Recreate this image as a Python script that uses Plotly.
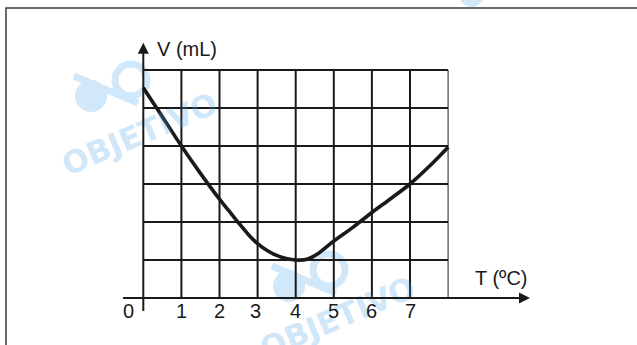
import plotly.graph_objects as go

# data
T = [0, 0.5, 1, 1.5, 2, 2.25, 2.5, 2.75, 3, 3.25, 3.5, 3.75, 4.0, 4.3, 4.6, 4.95, 5.5, 6, 6.5, 7, 7.5, 8]
V = [5.53, 4.77, 4.0, 3.28, 2.6, 2.29, 1.98, 1.68, 1.43, 1.25, 1.12, 1.04, 1.0, 1.02, 1.18, 1.46, 1.86, 2.25, 2.62, 3.0, 3.46, 3.97]
T_GRID = [1, 2, 3, 4, 5, 6, 7, 8]
V_GRID = [1, 2, 3, 4, 5, 6]
T_TICKS = [0, 1, 2, 3, 4, 5, 6, 7]
T_LABELS = ["0", "1", "2", "3", "4", "5", "6", "7"]

W, H = 637, 345
X0, Y0 = 143.3, 298.0     # pixel position of the origin
UX, UY = 38.1, 38.0       # pixels per unit
FONT = "Liberation Sans, Arial, sans-serif"
BLUE = "#d1e8fa"
# watermark text sits above the traces, so it is drawn faint: 25% of this blue over white gives BLUE
BLUE_TXT = "rgb(73,163,235)"


def px(x):
    return x / W


def py(y):
    return 1 - y / H


fig = go.Figure()
fig.add_trace(go.Scatter(x=T, y=V, mode="lines", line=dict(color="#1a1a1a", width=3.6, shape="spline", smoothing=0.9),
                         hoverinfo="skip", showlegend=False))

shapes = []
annotations = []

# watermark (logo + text), drawn twice
for dx, dy, ty in [(0, 0, 134), (198, 190, 318)]:
    shapes.append(dict(type="circle", xref="paper", yref="paper", layer="below",
                       x0=px(75 + dx), x1=px(107 + dx), y0=py(80 + dy), y1=py(112 + dy),
                       fillcolor=BLUE, line=dict(width=0)))
    shapes.append(dict(type="circle", xref="paper", yref="paper", layer="below",
                       x0=px(115 + dx), x1=px(147 + dx), y0=py(64 + dy), y1=py(96 + dy),
                       line=dict(color=BLUE, width=7)))
    shapes.append(dict(type="line", xref="paper", yref="paper", layer="below",
                       x0=px(74 + dx), x1=px(138 + dx), y0=py(76 + dy), y1=py(103 + dy),
                       line=dict(color=BLUE, width=7)))
    annotations.append(dict(xref="paper", yref="paper", x=px(139 + dx), y=py(ty), text="<b>OBJETIVO</b>",
                            xanchor="center", yanchor="middle", showarrow=False, textangle=-23, opacity=0.25,
                            font=dict(family="DejaVu Sans", size=31, color=BLUE_TXT)))
shapes.append(dict(type="circle", xref="paper", yref="paper", layer="below",
                   x0=px(459), x1=px(484), y0=py(-18), y1=py(7), fillcolor=BLUE, line=dict(width=0)))

# frame
shapes.append(dict(type="path", xref="paper", yref="paper", path=f"M {px(6)},{py(H + 5)} L {px(6)},{py(8)} L {px(W + 5)},{py(8)}",
                   line=dict(color="#3a3a3a", width=1.5)))

# grid
for t in T_GRID:
    last = t == T_GRID[-1]
    shapes.append(dict(type="line", xref="x", yref="y", x0=t, x1=t, y0=0, y1=V_GRID[-1], layer="below",
                       line=dict(color="#555555" if last else "#1a1a1a", width=1.3 if last else 2)))
for v in V_GRID:
    shapes.append(dict(type="line", xref="x", yref="y", x0=0, x1=T_GRID[-1], y0=v, y1=v, layer="below",
                       line=dict(color="#1a1a1a", width=2)))

# axes with arrows
annotations.append(dict(x=10.15, y=0, ax=-0.57, ay=0, xref="x", yref="y", axref="x", ayref="y", text="",
                        showarrow=True, arrowhead=2, arrowsize=1.1, arrowwidth=2, arrowcolor="#1a1a1a"))
annotations.append(dict(x=0, y=6.72, ax=0, ay=-0.38, xref="x", yref="y", axref="x", ayref="y", text="",
                        showarrow=True, arrowhead=2, arrowsize=1.1, arrowwidth=2, arrowcolor="#1a1a1a"))

# tick labels
for t, lab in zip(T_TICKS, T_LABELS):
    annotations.append(dict(x=t, y=0, xref="x", yref="y", text=lab, showarrow=False,
                            xshift=-15 if t == 0 else (-2 if t == 3 else 0), yshift=-13,
                            font=dict(family=FONT, size=20, color="#1a1a1a")))

annotations.append(dict(x=0, y=6.55, xref="x", yref="y", text="V (mL)", showarrow=False, xanchor="left",
                        xshift=12, font=dict(family=FONT, size=20, color="#1a1a1a")))
annotations.append(dict(x=9.4, y=0.52, xref="x", yref="y", text="T (ºC)", showarrow=False,
                        font=dict(family=FONT, size=20, color="#1a1a1a")))

fig.update_layout(
    width=W, height=H,
    margin=dict(l=0, r=0, t=0, b=0),
    paper_bgcolor="white", plot_bgcolor="rgba(0,0,0,0)",
    xaxis=dict(range=[-X0 / UX, (W - X0) / UX], visible=False, fixedrange=True),
    yaxis=dict(range=[-(H - Y0) / UY, Y0 / UY], visible=False, fixedrange=True),
    shapes=shapes, annotations=annotations,
)

# the page body has a default 8px margin; drop it so the figure sits at the window corner
fig.write_html("out.html", config={"displayModeBar": False},
               post_script="document.body.style.margin='0';")
